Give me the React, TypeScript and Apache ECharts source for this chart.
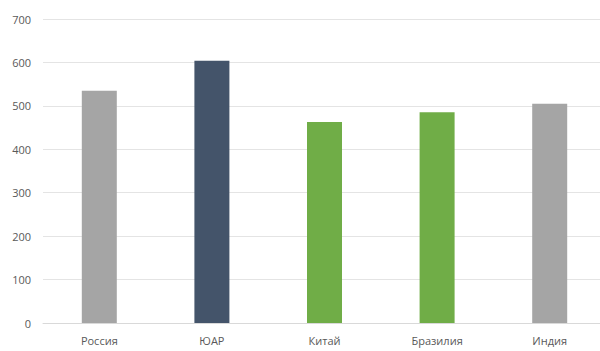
import React, { useEffect, useRef } from "react";
import * as echarts from "echarts";

const categories = ["Россия", "ЮАР", "Китай", "Бразилия", "Индия"];
const values = [535, 604, 463, 485, 505];
const colors = ["#A5A5A5", "#44546A", "#70AD47", "#70AD47", "#A5A5A5"];
const yTicks = [0, 100, 200, 300, 400, 500, 600, 700];

export default function App() {
  const ref = useRef<HTMLDivElement>(null);
  useEffect(() => {
    if (!ref.current) return;
    const chart = echarts.init(ref.current, undefined, { renderer: "svg" });
    chart.setOption({
      animation: false,
      grid: { left: 43, top: 19, bottom: 28, width: 563, outerBoundsMode: "none", containLabel: false },
      xAxis: {
        type: "category",
        data: categories,
        axisTick: { show: false },
        axisLine: { lineStyle: { color: "#D9D9D9", width: 1 } },
        axisLabel: {
          color: "#595959",
          fontSize: 11,
          fontFamily: "Open Sans",
          margin: 12,
        },
      },
      yAxis: {
        type: "value",
        min: yTicks[0],
        max: yTicks[yTicks.length - 1],
        interval: 100,
        axisLine: { show: false },
        axisTick: { show: false },
        splitLine: { lineStyle: { color: "#E4E4E4", width: 1 } },
        axisLabel: {
          color: "#595959",
          fontSize: 11,
          fontFamily: "Open Sans",
          margin: 12,
        },
      },
      series: [
        {
          type: "bar",
          data: values.map((v, i) => ({ value: v, itemStyle: { color: colors[i] } })),
          barWidth: 35,
        },
      ],
    });
    return () => chart.dispose();
  }, []);
  return <div ref={ref} style={{ width: 600, height: 351, position: "absolute", left: 0, top: 0 }} />;
}
